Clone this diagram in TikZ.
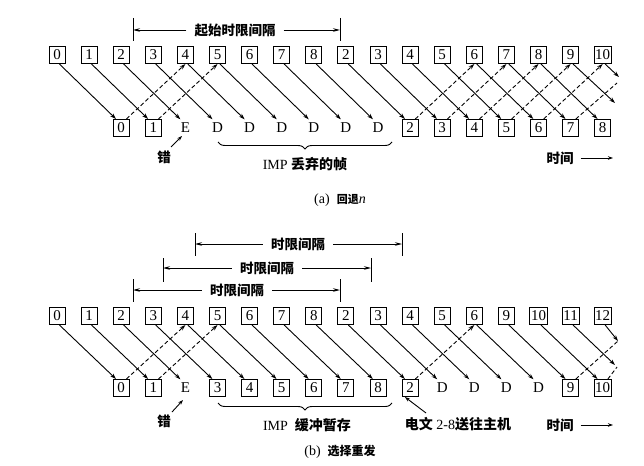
\documentclass[tikz,border=0pt]{standalone}
\usepackage{fontspec}
\setmainfont{Liberation Serif}
\newfontfamily\cjk{Noto Sans CJK SC}
\usetikzlibrary{arrows.meta,decorations.pathreplacing,calc}
\begin{document}
\begin{tikzpicture}[x=1pt,y=-1pt,
  fbox/.style={draw, line width=1pt, minimum width=16pt, minimum height=17pt, inner sep=1.2pt, font=\fontsize{15}{15}\selectfont},
  ftxt/.style={minimum width=16pt, minimum height=17pt, inner sep=1.2pt, font=\fontsize{15}{15}\selectfont},
  sol/.style={line width=0.9pt, -{Stealth[length=6pt,width=4pt]}},
  dsh/.style={line width=0.9pt, dash pattern=on 4pt off 2.5pt, -{Stealth[length=6pt,width=4pt]}},
  dshn/.style={line width=0.9pt, dash pattern=on 4pt off 2.5pt},
  cn/.style={font=\cjk\bfseries\fontsize{13.5}{14}\selectfont, inner sep=8pt},
  lbl/.style={font=\fontsize{14}{14}\selectfont, inner sep=1pt},
  ivl/.style={line width=0.9pt, -{Stealth[length=7pt,width=3.5pt]}},
  tick/.style={line width=1pt},
  brc/.style={line width=0.9pt, decorate, decoration={brace, mirror, amplitude=7pt}},
  small/.style={line width=0.9pt, -{Stealth[length=5pt,width=3.5pt]}}
]
\useasboundingbox (0,0) rectangle (644,465);

% ===================== (a) =====================
\draw[tick] (133,18) -- (133,41);
\draw[tick] (340,18) -- (340,41);
\coordinate (aL) at (133,30);
\coordinate (aR) at (340,30);
\node[cn] (aint) at (235,30) {起始时限间隔};
\draw[ivl] (aint.west) -- (aL);
\draw[ivl] (aint.east) -- (aR);

\foreach \t [count=\k from 0] in {0,1,2,3,4,5,6,7,8,2,3,4,5,6,7,8,9,10}
  \node[fbox] (ta\k) at ({57+32.1*\k},55) {\t};
\foreach \t/\s [count=\k from 2] in {0/fbox,1/fbox,E/ftxt,D/ftxt,D/ftxt,D/ftxt,D/ftxt,D/ftxt,D/ftxt,2/fbox,3/fbox,4/fbox,5/fbox,6/fbox,7/fbox,8/fbox}
  \node[\s] (ba\k) at ({57+32.1*\k},128) {\t};

\foreach \k in {0,...,15}{
  \pgfmathtruncatemacro\j{\k+2}
  \draw[sol] (ta\k.-75) -- (ba\j.120);
}
\coordinate (aE16) at (615,103);
\coordinate (aE17) at (619,77);
\coordinate (aD16) at (617,83);
\draw[sol] (ta16.-75) -- (aE16);
\draw[sol] (ta17.-75) -- (aE17);
\foreach \k in {2,3,11,12,13,14,15}{
  \pgfmathtruncatemacro\j{\k+2}
  \draw[dsh] (ba\k.60) -- (ta\j.south);
}
\draw[dshn] (ba16.60) -- (aD16);

\node[cn, inner sep=1pt] (acuo) at (164,157) {错};
\coordinate (acuoA) at (171,147);
\coordinate (acuoB) at (182,136);
\draw[small] (acuoA) -- (acuoB);

\coordinate (abr1) at (218,142);
\coordinate (abr2) at (392,142);
\draw[brc] (abr1) -- (abr2);
\node[lbl] (aimp) at (305,164) {IMP {\cjk\bfseries 丢弃的帧}};

\node[cn, inner sep=1pt] (atime) at (560,158) {时间};
\coordinate (atA) at (613,158);
\draw[small] ($(atime.east)+(6,0)$) -- (atA);

\node[lbl] (acap) at (340,200) {(a)\ \ {\cjk\bfseries\fontsize{11}{12}\selectfont 回退}{\itshape n}};

% ===================== (b) =====================
\draw[tick] (195,233) -- (195,256);
\draw[tick] (402,233) -- (402,256);
\node[cn] (bint1) at (298,244) {时限间隔};
\coordinate (b1L) at (195,244);
\coordinate (b1R) at (402,244);
\draw[ivl] (bint1.west) -- (b1L);
\draw[ivl] (bint1.east) -- (b1R);

\draw[tick] (163,258) -- (163,282);
\draw[tick] (371,258) -- (371,282);
\node[cn] (bint2) at (267,268) {时限间隔};
\coordinate (b2L) at (163,268);
\coordinate (b2R) at (371,268);
\draw[ivl] (bint2.west) -- (b2L);
\draw[ivl] (bint2.east) -- (b2R);

\draw[tick] (133,279) -- (133,302);
\draw[tick] (340,279) -- (340,302);
\node[cn] (bint3) at (237,290) {时限间隔};
\coordinate (b3L) at (133,290);
\coordinate (b3R) at (340,290);
\draw[ivl] (bint3.west) -- (b3L);
\draw[ivl] (bint3.east) -- (b3R);

\foreach \t [count=\k from 0] in {0,1,2,3,4,5,6,7,8,2,3,4,5,6,9,10,11,12}
  \node[fbox] (tb\k) at ({57+32.1*\k},316) {\t};
\foreach \t/\s [count=\k from 2] in {0/fbox,1/fbox,E/ftxt,3/fbox,4/fbox,5/fbox,6/fbox,7/fbox,8/fbox,2/fbox,D/ftxt,D/ftxt,D/ftxt,D/ftxt,9/fbox,10/fbox}
  \node[\s] (bb\k) at ({57+32.1*\k},388) {\t};

\foreach \k in {0,...,15}{
  \pgfmathtruncatemacro\j{\k+2}
  \draw[sol] (tb\k.-75) -- (bb\j.120);
}
\coordinate (bE16) at (615,365);
\coordinate (bE17) at (618,341);
\coordinate (bD16) at (618,341);
\coordinate (bD17) at (617,367);
\draw[sol] (tb16.-75) -- (bE16);
\draw[sol] (tb17.-75) -- (bE17);
\foreach \k in {2,3,11}{
  \pgfmathtruncatemacro\j{\k+2}
  \draw[dsh] (bb\k.60) -- (tb\j.south);
}
\draw[dshn] (bb16.60) -- (bD16);
\draw[dshn] (bb17.60) -- (bD17);

\node[cn, inner sep=1pt] (bcuo) at (164,421) {错};
\coordinate (bcuoA) at (172,412);
\coordinate (bcuoB) at (183,400);
\draw[small] (bcuoA) -- (bcuoB);

\coordinate (bbr1) at (218,403);
\coordinate (bbr2) at (392,403);
\draw[brc] (bbr1) -- (bbr2);
\node[lbl] (bimp) at (307,425) {IMP\ \ {\cjk\bfseries 缓冲暂存}};

\node[lbl] (bmsg) at (458,424) {{\cjk\bfseries 电文} 2-8{\cjk\bfseries 送往主机}};
\coordinate (bmA) at (426,413);
\draw[small] (bmA) -- (bb11.-120);

\node[cn, inner sep=1pt] (btime) at (560,425) {时间};
\coordinate (btA) at (613,425);
\draw[small] ($(btime.east)+(6,0)$) -- (btA);

\node[lbl] (bcap) at (340,452) {(b)\ \ {\cjk\bfseries\fontsize{12}{12}\selectfont 选择重发}};
\end{tikzpicture}
\end{document}
